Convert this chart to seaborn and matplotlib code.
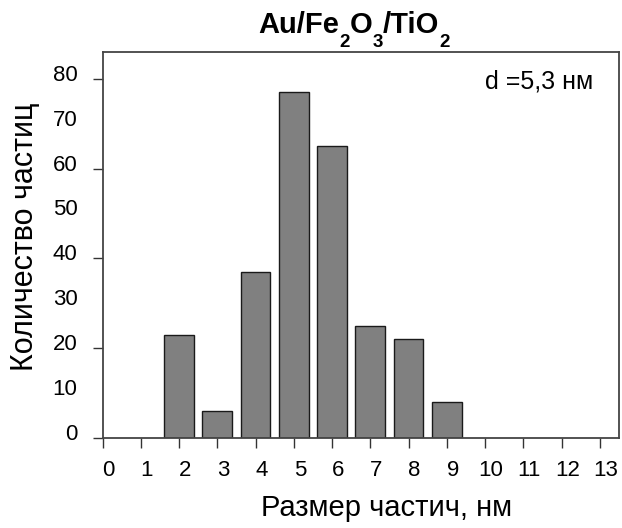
import matplotlib
matplotlib.use("Agg")
import matplotlib.pyplot as plt
import matplotlib.transforms as mtransforms
import seaborn as sns
import numpy as np

sizes = [2, 3, 4, 5, 6, 7, 8, 9]
counts = [23, 6, 37, 77, 65, 25, 22, 8]
x_ticks = list(range(0, 14))
y_ticks = list(range(0, 81, 10))
title_parts = [("Au/Fe", False), ("2", True), ("O", False), ("3", True), ("/TiO", False), ("2", True)]
annotation = "d =5,3 нм"
x_label = "Размер частич, нм"
y_label = "Количество частиц"

sns.set_style("ticks")
plt.rcParams['font.family'] = ['Liberation Sans', 'DejaVu Sans']
plt.rcParams['text.color'] = 'black'

W, H = 622, 528
fig = plt.figure(figsize=(W / 100, H / 100), dpi=100)
ax = fig.add_axes([102.5 / W, 1 - 437.7 / H, (619 - 102.5) / W, (437.7 - 52) / H])

sns.barplot(x=sizes, y=counts, native_scale=True, width=0.78, color='#808080',
            saturation=1, edgecolor='#1a1a1a', linewidth=1.0, ax=ax)

ax.set_xlim(0, 13.5)
ax.set_ylim(0, 86)
ax.set_xticks(x_ticks)
ax.set_xticklabels([str(t) for t in x_ticks])
ax.set_yticks(y_ticks)
ax.set_yticklabels([str(t) for t in y_ticks])
for t, tick in zip(y_ticks, ax.yaxis.get_major_ticks()):
    if t % 20 != 0:
        tick.tick1line.set_visible(False)

ax.tick_params(axis='both', direction='out', length=7, width=1.0, color='#333333',
               labelsize=16, labelcolor='black')
ax.tick_params(axis='x', pad=9)
ax.tick_params(axis='y', pad=11)
for sp in ax.spines.values():
    sp.set_color('#444444')
    sp.set_linewidth(1.3)

# shift tick labels like the reference (x labels right, y labels up)
dx = mtransforms.ScaledTranslation(0.06, 0, fig.dpi_scale_trans)
dy = mtransforms.ScaledTranslation(0, 0.06, fig.dpi_scale_trans)
for lab in ax.get_xticklabels():
    lab.set_transform(lab.get_transform() + dx)
for lab in ax.get_yticklabels():
    lab.set_transform(lab.get_transform() + dy)

fig.text(387 / W, 1 - 516.5 / H, x_label, fontsize=21, ha='center', va='baseline', color='black')
fig.text(25 / W, 1 - 237 / H, y_label, fontsize=22, ha='center', va='center',
         rotation=90, color='black')
fig.text(593 / W, 1 - 88.3 / H, annotation, fontsize=18, ha='right', va='baseline', color='black')

# title with lowered subscripts
main_size, sub_size = 21, 13.5
base_y = 33.3
sub_drop = 13.4
fig.canvas.draw()
renderer = fig.canvas.get_renderer()
texts = []
total = 0
for s, is_sub in title_parts:
    tt = fig.text(0, 0, s, fontsize=sub_size if is_sub else main_size, fontweight='bold',
                  ha='left', va='baseline', color='black')
    w = tt.get_window_extent(renderer).width
    texts.append((tt, w, is_sub))
    total += w
x = 354 - total / 2
for tt, w, is_sub in texts:
    yb = base_y + (sub_drop if is_sub else 0)
    tt.set_position((x / W, 1 - yb / H))
    x += w

fig.savefig('out.png', dpi=100)
